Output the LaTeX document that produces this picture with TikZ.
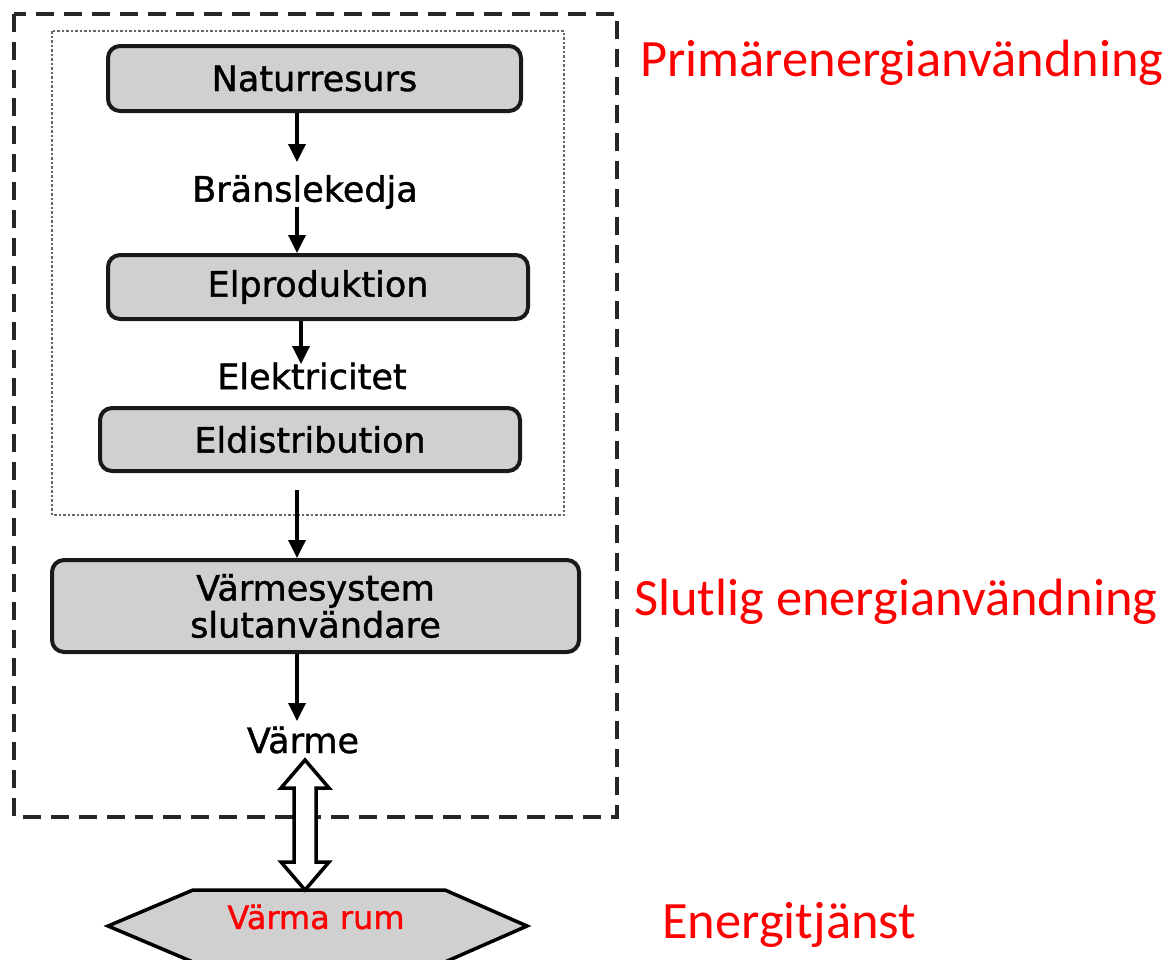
\documentclass[tikz,border=0pt]{standalone}
\usepackage{fontspec}
\setmainfont{DejaVu Sans}[FakeBold=1.2]
\newfontfamily\redfont{Carlito}
\usetikzlibrary{arrows.meta}
\definecolor{boxgray}{HTML}{D0D0D0}
\definecolor{lblred}{HTML}{FF0000}
\tikzset{
  stagebox/.style={draw=black!90, line width=4pt, rounded corners=12pt, fill=boxgray, font=\fontsize{35}{40}\selectfont, inner sep=0pt},
  flowlabel/.style={font=\fontsize{35}{40}\selectfont, inner sep=2pt},
  redlabel/.style={font=\redfont\fontsize{52.5}{58}\selectfont, text=lblred, anchor=west, inner sep=0pt},
  flowarrow/.style={line width=3.5pt, -{Triangle[length=18pt,width=17pt]}},
}
\begin{document}
\begin{tikzpicture}[x=1pt,y=-1pt]
\useasboundingbox (0,0) rectangle (1174,959);
% frames
\draw[line width=4pt, dash pattern=on 18pt off 10pt, black!85] (14,14) rectangle (617,817);
\draw[line width=2.5pt, dotted, black!60] (52,31) rectangle (564,515);
% boxes
\node[stagebox, minimum width=413pt, minimum height=65pt] (nat) at (314.5,78.5) {Naturresurs};
\node[flowlabel] (bran) at (305,192) {Bränslekedja};
\node[stagebox, minimum width=420pt, minimum height=64pt] (elp) at (318,287) {Elproduktion};
\node[flowlabel] (elek) at (312,376) {Elektricitet};
\node[stagebox, minimum width=420pt, minimum height=63pt] (eld) at (310,439.5) {Eldistribution};
\node[stagebox, minimum width=527pt, minimum height=92pt, align=center] (vsys) at (315.5,606) {Värmesystem\\[-3pt]slutanvändare};
\node[flowlabel] (varme) at (303,740) {Värme};
% arrows (ends placed just short of the next label/box)
\coordinate (a1e) at (297,162);
\draw[flowarrow] (nat.south -| a1e) -- (a1e);
\coordinate (a2s) at (297,207);
\draw[flowarrow] (a2s) -- (a2s |- elp.north);
\coordinate (a3e) at (301,364);
\draw[flowarrow] (elp.south -| a3e) -- (a3e);
\coordinate (a4s) at (297,490);
\draw[flowarrow] (a4s) -- (a4s |- vsys.north);
\coordinate (a5e) at (297,721);
\draw[flowarrow] (vsys.south -| a5e) -- (a5e);
% hexagon
\draw[line width=3.5pt, fill=boxgray] (108,926) -- (193,890) -- (445,890) -- (527,926) -- (445,962) -- (193,962) -- cycle;
\node[font=\fontsize{32}{36}\selectfont, text=lblred] (rum) at (316,917) {Värma rum};
% double arrow
\draw[line width=3.5pt, fill=white] (305,760) -- (329,788) -- (316,788) -- (316,862) -- (329,862) -- (305,890) -- (281,862) -- (294,862) -- (294,788) -- (281,788) -- cycle;
% red labels
\node[redlabel] (prim) at (640,63) {Primärenergianvändning};
\node[redlabel] (slut) at (634,602) {Slutlig energianvändning};
\node[redlabel] (tjanst) at (662,925) {Energitjänst};
\end{tikzpicture}
\end{document}
